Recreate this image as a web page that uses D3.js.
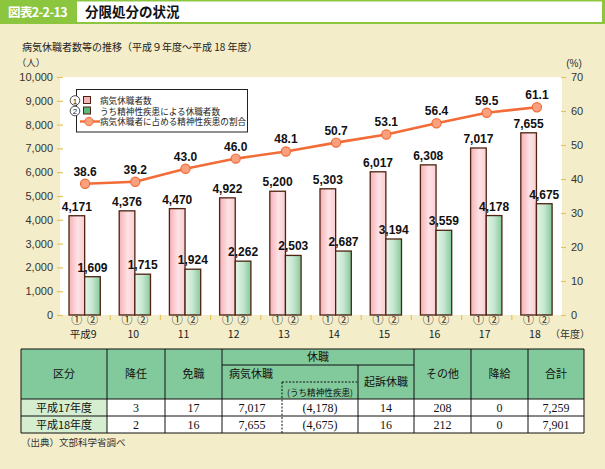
<!DOCTYPE html>
<html><head><meta charset="utf-8">
<script src="https://cdn.jsdelivr.net/npm/d3@7"></script>
<style>
html,body{margin:0;padding:0;background:#f4edc9;}
svg{display:block;}
</style></head>
<body>
<svg id="chart" width="605" height="469"></svg>
<script>
// ---- data ----
const years = ["平成9","10","11","12","13","14","15","16","17","18"];
const sickLeave = [4171,4376,4470,4922,5200,5303,6017,6308,7017,7655];
const mentalLeave = [1609,1715,1924,2262,2503,2687,3194,3559,4178,4675];
const mentalRatio = [38.6,39.2,43.0,46.0,48.1,50.7,53.1,56.4,59.5,61.1];
const leftTicks = [0,1000,2000,3000,4000,5000,6000,7000,8000,9000,10000];
const rightTicks = [0,10,20,30,40,50,60,70];
const legendLabels = ["病気休職者数","うち精神性疾患による休職者数","病気休職者に占める精神性疾患の割合"];
const legendNumbers = ["1","2"];

const tableRowLabels = ["平成17年度","平成18年度"];
const tableDemotion = ["3","2"];
const tableDismissal = ["17","16"];
const tableSick = ["7,017","7,655"];
const tableMental = ["(4,178)","(4,675)"];
const tableIndicted = ["14","16"];
const tableOther = ["208","212"];
const tablePayCut = ["0","0"];
const tableTotal = ["7,259","7,901"];

const JP = "'Noto Sans CJK JP','Noto Sans',sans-serif";
const LAT = "'Liberation Sans',Arial,sans-serif";
const SERIF = "'Liberation Serif','Times New Roman',serif";

const svg = d3.select("#chart");
const defs = svg.append("defs");
const gp = defs.append("linearGradient").attr("id","gPink").attr("x1","0").attr("x2","1").attr("y1","0").attr("y2","0");
gp.append("stop").attr("offset","0").attr("stop-color","#f6b0b7");
gp.append("stop").attr("offset","0.55").attr("stop-color","#fde3e6");
gp.append("stop").attr("offset","1").attr("stop-color","#f9cdd2");
const gg = defs.append("linearGradient").attr("id","gGreen").attr("x1","0").attr("x2","1").attr("y1","0").attr("y2","0");
gg.append("stop").attr("offset","0").attr("stop-color","#e4f4e8");
gg.append("stop").attr("offset","0.5").attr("stop-color","#c6e7d0");
gg.append("stop").attr("offset","1").attr("stop-color","#84c89b");

// ---- header ----
svg.append("rect").attr("x",0).attr("y",0).attr("width",605).attr("height",24).attr("fill","#8cc63f");
svg.append("rect").attr("x",77).attr("y",1.5).attr("width",525).attr("height",20.5).attr("fill","#ffffff");
svg.append("text").attr("x",8).attr("y",17).attr("fill","#fff").attr("font-family",JP)
  .attr("font-weight","bold").attr("font-size",12.5).attr("letter-spacing",-0.6).text("図表2-2-13");
svg.append("text").attr("x",85).attr("y",17).attr("fill","#111").attr("font-family",JP)
  .attr("font-weight","bold").attr("font-size",13.5).text("分限処分の状況");

svg.append("text").attr("x",22).attr("y",51).attr("fill","#222").attr("font-family",JP)
  .attr("font-size",10).text("病気休職者数等の推移（平成９年度〜平成 18 年度）");

// ---- plot ----
const L = 60, R = 562, T = 77, B = 315;
svg.append("rect").attr("x",L).attr("y",T).attr("width",R-L).attr("height",B-T).attr("fill","#fff");

const x0 = d3.scaleBand().domain(years).range([L,R]).padding(0);
const x1 = d3.scaleBand().domain(["sick","mental"]).range([9,40.3]).padding(0);
const yL = d3.scaleLinear().domain([0,10000]).range([B,T]);
const yR = d3.scaleLinear().domain([0,70]).range([B,T]);

// axes
const axL = svg.append("g").attr("transform",`translate(${L+3},0)`)
  .call(d3.axisLeft(yL).tickValues(leftTicks).tickFormat(d3.format(",")).tickSize(6).tickPadding(4));
const axR = svg.append("g").attr("transform",`translate(${R-1},0)`)
  .call(d3.axisRight(yR).tickValues(rightTicks).tickSize(5).tickPadding(5));
[axL,axR].forEach(a=>{
  a.select(".domain").remove();
  a.selectAll(".tick line").attr("stroke","#e5c55a").attr("stroke-width",1.2);
  a.selectAll(".tick text").attr("fill","#333").attr("font-family",LAT).attr("font-size",11);
});
svg.append("text").attr("x",31).attr("y",66).attr("text-anchor","middle").attr("font-family",JP)
  .attr("font-size",9.5).attr("fill","#333").text("（人）");
svg.append("text").attr("x",574).attr("y",67).attr("text-anchor","middle").attr("font-family",LAT)
  .attr("font-size",10).attr("fill","#333").text("(%)");

// group separator ticks
svg.append("g").selectAll("line").data(years.slice(1)).join("line")
  .attr("x1",d=>x0(d)).attr("x2",d=>x0(d)).attr("y1",B).attr("y2",B+5)
  .attr("stroke","#e5c55a").attr("stroke-width",1.2);

// bars
const groups = svg.append("g").selectAll("g").data(years).join("g")
  .attr("transform",d=>`translate(${x0(d)},0)`);
groups.append("rect").attr("x",x1("sick")).attr("width",x1.bandwidth())
  .attr("y",(d,i)=>yL(sickLeave[i])).attr("height",(d,i)=>B-yL(sickLeave[i]))
  .attr("fill","url(#gPink)").attr("stroke","#4d2210").attr("stroke-width",1.3);
groups.append("rect").attr("x",x1("mental")).attr("width",x1.bandwidth())
  .attr("y",(d,i)=>yL(mentalLeave[i])).attr("height",(d,i)=>B-yL(mentalLeave[i]))
  .attr("fill","url(#gGreen)").attr("stroke","#4d2210").attr("stroke-width",1.3);
groups.append("text").attr("x",x1("sick")+x1.bandwidth()/2).attr("y",(d,i)=>yL(sickLeave[i])-5)
  .attr("text-anchor","middle").attr("font-family",LAT).attr("font-weight","bold").attr("font-size",12)
  .attr("fill","#111").text((d,i)=>d3.format(",")(sickLeave[i]));
groups.append("text").attr("x",x1("mental")+x1.bandwidth()/2).attr("y",(d,i)=>yL(mentalLeave[i])-5)
  .attr("text-anchor","middle").attr("font-family",LAT).attr("font-weight","bold").attr("font-size",12)
  .attr("fill","#111").text((d,i)=>d3.format(",")(mentalLeave[i]));
// ① ② labels and years
groups.append("text").attr("x",x1("sick")+x1.bandwidth()/2).attr("y",324)
  .attr("text-anchor","middle").attr("font-family",JP).attr("font-size",11).attr("fill","#222").text("①");
groups.append("text").attr("x",x1("mental")+x1.bandwidth()/2).attr("y",324)
  .attr("text-anchor","middle").attr("font-family",JP).attr("font-size",11).attr("fill","#222").text("②");
groups.append("text").attr("x",x0.bandwidth()/2-2).attr("y",338)
  .attr("text-anchor","middle").attr("font-family",JP).attr("font-size",10.5).attr("fill","#222").text(d=>d);
svg.append("text").attr("x",570).attr("y",338).attr("text-anchor","middle").attr("font-family",JP)
  .attr("font-size",10).attr("fill","#333").text("（年度）");

// line
const cx = d=>x0(d)+x0.bandwidth()/2;
const line = d3.line().x((v,i)=>cx(years[i])).y(v=>yR(v));
svg.append("path").datum(mentalRatio).attr("d",line).attr("fill","none")
  .attr("stroke","#f26c38").attr("stroke-width",2.6);
svg.append("g").selectAll("circle").data(mentalRatio).join("circle")
  .attr("cx",(v,i)=>cx(years[i])).attr("cy",v=>yR(v)).attr("r",4.6)
  .attr("fill","#f9a07e").attr("stroke","#f26c38").attr("stroke-width",1.2);
svg.append("g").selectAll("text").data(mentalRatio).join("text")
  .attr("x",(v,i)=>cx(years[i])).attr("y",v=>yR(v)-8).attr("text-anchor","middle")
  .attr("font-family",LAT).attr("font-weight","bold").attr("font-size",12).attr("fill","#111")
  .text(v=>v.toFixed(1));

// legend
const lg = svg.append("g");
lg.append("rect").attr("x",76.5).attr("y",89.5).attr("width",171).attr("height",42.5)
  .attr("fill","#fff").attr("stroke","#222").attr("stroke-width",1);
const numG = lg.selectAll("g.num").data(legendNumbers).join("g").attr("class","num")
  .attr("transform",(d,i)=>`translate(75,${100.5+i*10.5})`);
numG.append("circle").attr("r",4.8).attr("fill","#fff").attr("stroke","#222").attr("stroke-width",0.8);
numG.append("text").attr("y",3).attr("text-anchor","middle").attr("font-family",LAT).attr("font-size",8)
  .attr("fill","#222").text(d=>d);
lg.append("rect").attr("x",83.5).attr("y",96.5).attr("width",7).attr("height",7).attr("fill","#f5b2b8").attr("stroke","#4d2210");
lg.append("rect").attr("x",83.5).attr("y",107).attr("width",7).attr("height",7).attr("fill","#5cb87c").attr("stroke","#4d2210");
lg.append("line").attr("x1",80).attr("x2",100).attr("y1",121.5).attr("y2",121.5).attr("stroke","#f26c38").attr("stroke-width",2.4);
lg.append("circle").attr("cx",89).attr("cy",121.5).attr("r",4.2).attr("fill","#f9a07e").attr("stroke","#f26c38");
lg.selectAll("text.lab").data(legendLabels).join("text").attr("class","lab")
  .attr("x",100).attr("y",(d,i)=>104+i*10.5).attr("font-family",JP).attr("font-size",8.6)
  .attr("fill","#222").text(d=>d);

// ---- table ----
const tb = svg.append("g");
const cols = [21,107,165,222,282,358,414,471,528,584];
const tTop = 349, tSub = 365, tDot = 382, r1 = 399, r2 = 416, tBot = 433;
tb.append("rect").attr("x",cols[0]).attr("y",tTop).attr("width",cols[9]-cols[0]).attr("height",r1-tTop).attr("fill","#82ca9c");
tb.append("rect").attr("x",cols[0]).attr("y",r1).attr("width",cols[1]-cols[0]).attr("height",tBot-r1).attr("fill","#d6eed0");
tb.append("rect").attr("x",cols[1]).attr("y",r1).attr("width",cols[9]-cols[1]).attr("height",tBot-r1).attr("fill","#fff");
const ln = (x1_,y1_,x2_,y2_,dash)=>tb.append("line").attr("x1",x1_).attr("y1",y1_).attr("x2",x2_).attr("y2",y2_)
  .attr("stroke","#111").attr("stroke-width",1).attr("stroke-dasharray",dash||null);
ln(cols[0],tTop,cols[9],tTop); ln(cols[0],r1,cols[9],r1); ln(cols[0],r2,cols[9],r2); ln(cols[0],tBot,cols[9],tBot);
ln(cols[3],tSub,cols[6],tSub);
[0,1,2,3,6,7,8,9].forEach(i=>ln(cols[i],tTop,cols[i],tBot));
ln(cols[5],tSub,cols[5],tBot);
ln(cols[4],tDot,cols[4],tBot,"2,1.5"); ln(cols[4],tDot,cols[5],tDot,"2,1.5");
const ht = (x,y,t,anchor,size)=>tb.append("text").attr("x",x).attr("y",y).attr("text-anchor",anchor||"middle")
  .attr("font-family",JP).attr("font-size",size||11).attr("fill","#111").text(t);
const mid = i=>(cols[i]+cols[i+1])/2;
ht(mid(0),378,"区分"); ht(mid(1),378,"降任"); ht(mid(2),378,"免職");
ht((cols[3]+cols[6])/2,361,"休職"); ht(cols[3]+7,378,"病気休職","start");
ht(mid(4),396,"(うち精神性疾患)","middle",8.6); ht(mid(5),386,"起訴休職");
ht(mid(6),378,"その他"); ht(mid(7),378,"降給"); ht(mid(8),378,"合計");
const colsData = [tableDemotion,tableDismissal,tableSick,tableMental,tableIndicted,tableOther,tablePayCut,tableTotal];
tableRowLabels.forEach((lab,ri)=>{
  const y = (ri===0?r1:r2)+13;
  ht(mid(0),y,lab,"middle",11);
  colsData.forEach((arr,ci)=>{
    tb.append("text").attr("x",mid(ci+1)).attr("y",y).attr("text-anchor","middle")
      .attr("font-family",SERIF).attr("font-size",12).attr("fill","#111").text(arr[ri]);
  });
});
svg.append("text").attr("x",21).attr("y",446).attr("font-family",JP).attr("font-size",9.5)
  .attr("fill","#333").text("（出典）文部科学省調べ");
</script>
</body></html>
